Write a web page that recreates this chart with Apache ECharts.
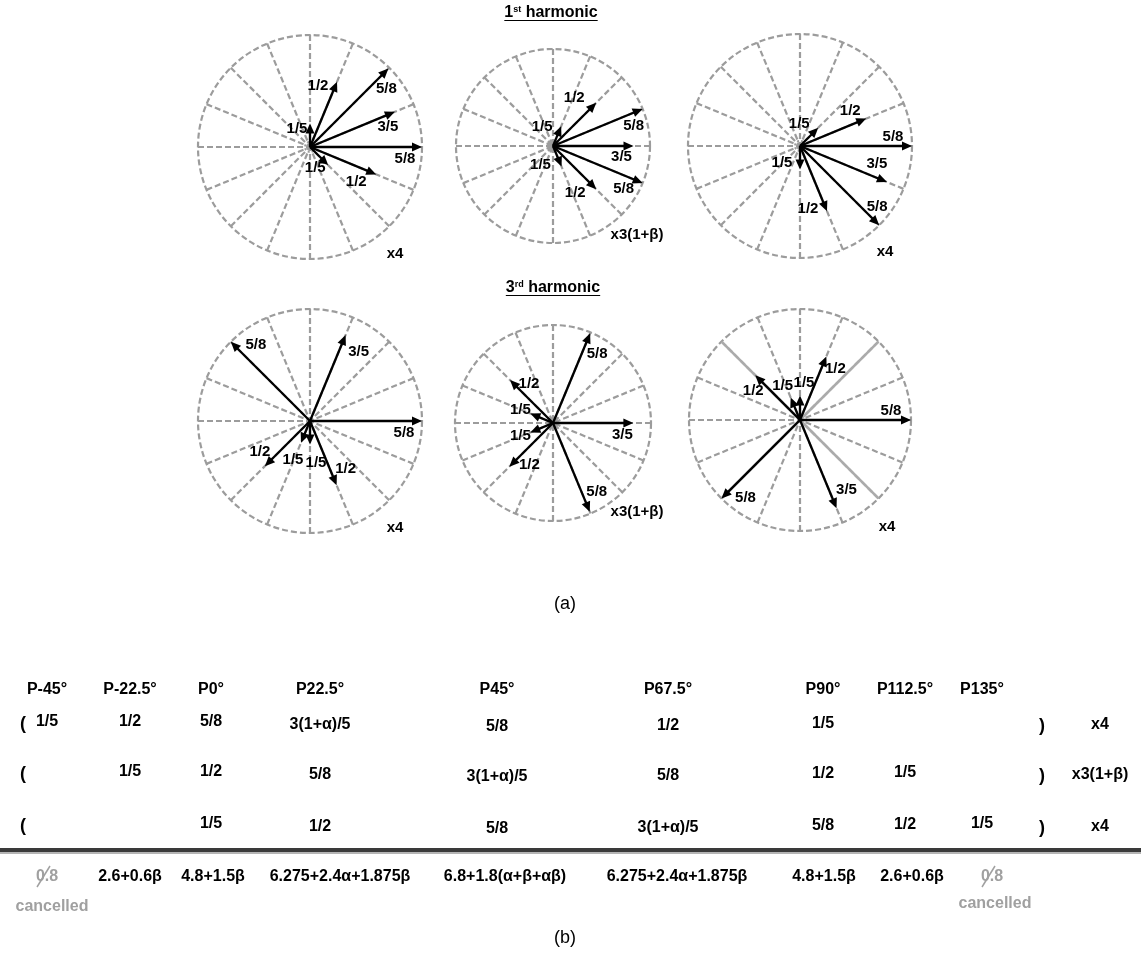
<!DOCTYPE html>
<html>
<head>
<meta charset="utf-8">
<script src="https://cdn.jsdelivr.net/npm/echarts@6/dist/echarts.min.js"></script>
<style>html,body{margin:0;padding:0;background:#fff}#c{width:1141px;height:956px}</style>
</head>
<body>
<div id="c"></div>
<script>
// ---------------- DATA ----------------
const harmonicTitles = [['1', 'st', ' harmonic'], ['3', 'rd', ' harmonic']];
const circleMultipliers = ['x4', 'x3(1+β)', 'x4', 'x4', 'x3(1+β)', 'x4'];

// phasor angles (deg, CCW from right), drawn lengths (fraction of circle radius), labels
const angles1 = [90, 67.5, 45, 22.5, 0, -22.5, -45];
const lengths1 = [0.21, 0.63, 0.99, 0.82, 1.0, 0.64, 0.23];
const labels1 = ['1/5', '1/2', '5/8', '3/5', '5/8', '1/2', '1/5'];

const angles2 = [67.5, 45, 22.5, 0, -22.5, -45, -67.5];
const lengths2 = [0.22, 0.63, 1.0, 0.83, 1.0, 0.63, 0.23];
const labels2 = ['1/5', '1/2', '5/8', '3/5', '5/8', '1/2', '1/5'];

const angles3 = [45, 22.5, 0, -22.5, -45, -67.5, -90];
const lengths3 = [0.23, 0.64, 1.0, 0.84, 1.0, 0.63, 0.21];
const labels3 = ['1/5', '1/2', '5/8', '3/5', '5/8', '1/2', '1/5'];

const angles4 = [135, 67.5, 0, -67.5, -90, -112.5, -135];
const lengths4 = [1.0, 0.83, 1.0, 0.62, 0.21, 0.21, 0.57];
const labels4 = ['5/8', '3/5', '5/8', '1/2', '1/5', '1/5', '1/2'];

const angles5 = [67.5, 135, 157.5, 0, 202.5, 225, -67.5];
const lengths5 = [0.99, 0.62, 0.25, 0.82, 0.25, 0.63, 0.98];
const labels5 = ['5/8', '1/2', '1/5', '3/5', '1/5', '1/2', '5/8'];

const angles6 = [67.5, 90, 112.5, 135, 0, 225, -67.5];
const lengths6 = [0.62, 0.22, 0.22, 0.57, 1.0, 1.0, 0.86];
const labels6 = ['1/2', '1/5', '1/5', '1/2', '5/8', '5/8', '3/5'];

const solidSpokeAngles6 = [45, 135, 225, 315];

// table
const columnHeaders = ['P-45°', 'P-22.5°', 'P0°', 'P22.5°', 'P45°', 'P67.5°', 'P90°', 'P112.5°', 'P135°'];
const row1 = ['1/5', '1/2', '5/8', '3(1+α)/5', '5/8', '1/2', '1/5', '', ''];
const row2 = ['', '1/5', '1/2', '5/8', '3(1+α)/5', '5/8', '1/2', '1/5', ''];
const row3 = ['', '', '1/5', '1/2', '5/8', '3(1+α)/5', '5/8', '1/2', '1/5'];
const rowMultipliers = ['x4', 'x3(1+β)', 'x4'];
const totals = ['0.8', '2.6+0.6β', '4.8+1.5β', '6.275+2.4α+1.875β', '6.8+1.8(α+β+αβ)', '6.275+2.4α+1.875β', '4.8+1.5β', '2.6+0.6β', '0.8'];
const totalsCancelled = [true, false, false, false, false, false, false, false, true];
const cancelledText = 'cancelled';
const panelLabels = ['(a)', '(b)'];

// ---------------- LAYOUT / STYLE ----------------
const F = '"Liberation Sans",Arial,Helvetica,sans-serif';
const GRAY = '#9c9c9c';

const circles = [
  {center: [310, 147], r: 112, ring: true},
  {center: [553, 146], r: 97, ring: true},
  {center: [800, 146], r: 112, ring: true},
  {center: [310, 421], r: 112, ring: false},
  {center: [553, 423], r: 98, ring: false},
  {center: [800, 420], r: 111, ring: false}
];
const allAngles = [angles1, angles2, angles3, angles4, angles5, angles6];
const allLengths = [lengths1, lengths2, lengths3, lengths4, lengths5, lengths6];
const allLabels = [labels1, labels2, labels3, labels4, labels5, labels6];
const labelOffsets = [
  [[-13, 5], [-19, 4], [-2, 20], [-7, 15], [-17, 12], [-20, 7], [-13, 3]],
  [[-19, 1], [-22, -5], [-9, 17], [-12, 11], [-19, 6], [-21, 4], [-21, -2]],
  [[-19, -4], [-16, -8], [-19, -9], [-10, -18], [-2, -18], [-19, -2], [-18, -7]],
  [[25, 3], [13, 17], [-18, 12], [9, -16], [6, 18], [-8, 17], [-5, -14]],
  [[7, 20], [19, 4], [-10, -4], [-11, 12], [-10, 3], [20, -2], [7, -20]],
  [[9, 12], [4, -13], [-8, -12], [-2, 16], [-20, -9], [24, -1], [10, -18]]
];
const multiplierPos = [[395, 254], [637, 235], [885, 252], [395, 528], [637, 512], [887, 527]];
const titlePos = [[551, 13], [553, 288]];

const colX = [47, 130, 211, 320, 497, 668, 823, 905, 982];
const bodyColDy = [0, 0, 0, 3, 5, 4, 2, 1, 0];
const totalsX = [47, 130, 213, 340, 505, 677, 824, 912, 992];
const headerY = 690, rowY = [722, 772, 824], totalsY = 877;
const openParenX = 23, closeParenX = 1042, multX = 1100;

const norm = a => ((a % 360) + 360) % 360;

// ---------------- BUILD ----------------
const polar = circles.map(c => ({center: c.center, radius: [0, c.r]}));
const angleAxis = circles.map((c, i) => ({
  polarIndex: i, type: 'value', min: 0, max: 360, interval: 22.5,
  startAngle: 0, clockwise: false,
  axisLine: {show: true, lineStyle: {color: GRAY, width: 2.2, type: [6, 3]}},
  axisTick: {show: false}, axisLabel: {show: false},
  splitLine: {show: true, lineStyle: {color: GRAY, width: 2.2, type: [6, 3]}}
}));
const radiusAxis = circles.map((c, i) => ({polarIndex: i, type: 'value', min: 0, max: 1, show: false}));

const series = [];
// center rings
circles.forEach((c, i) => {
  if (!c.ring) return;
  series.push({
    type: 'custom', coordinateSystem: 'polar', polarIndex: i, clip: false, silent: true, z: 3,
    data: [[0, 0]], encode: {radius: 0, angle: 1},
    renderItem: (params) => ({
      type: 'circle', shape: {cx: params.coordSys.cx, cy: params.coordSys.cy, r: 5},
      style: {stroke: GRAY, fill: null, lineWidth: 2, lineDash: [2, 2]}
    })
  });
});
// solid gray spokes in the last diagram
series.push({
  type: 'custom', coordinateSystem: 'polar', polarIndex: 5, clip: false, silent: true, z: 4,
  data: solidSpokeAngles6.map(a => [1, norm(a)]), encode: {radius: 0, angle: 1},
  renderItem: (params, api) => {
    const p = api.coord([api.value(0), api.value(1)]);
    return {type: 'line', shape: {x1: params.coordSys.cx, y1: params.coordSys.cy, x2: p[0], y2: p[1]},
      style: {stroke: '#ababab', lineWidth: 2.5}};
  }
});
// phasor arrows
allAngles.forEach((angs, i) => {
  series.push({
    type: 'custom', coordinateSystem: 'polar', polarIndex: i, clip: false, silent: true, z: 10,
    data: angs.map((a, k) => [allLengths[i][k], norm(a)]), encode: {radius: 0, angle: 1},
    renderItem: (params, api) => {
      const cs = params.coordSys;
      const tip = api.coord([api.value(0), api.value(1)]);
      const cx = cs.cx, cy = cs.cy;
      const dx = tip[0] - cx, dy = tip[1] - cy;
      const L = Math.hypot(dx, dy) || 1;
      const ux = dx / L, uy = dy / L;
      const hl = 10, hw = 4.5;
      const bx = tip[0] - ux * hl, by = tip[1] - uy * hl;
      const off = labelOffsets[i][params.dataIndex];
      return {type: 'group', children: [
        {type: 'line', shape: {x1: cx, y1: cy, x2: bx + ux * 2, y2: by + uy * 2}, style: {stroke: '#000', lineWidth: 2.3}},
        {type: 'polygon', shape: {points: [[tip[0], tip[1]], [bx - uy * hw, by + ux * hw], [bx + uy * hw, by - ux * hw]]}, style: {fill: '#000'}},
        {type: 'text', style: {text: allLabels[i][params.dataIndex], x: tip[0] + off[0], y: tip[1] + off[1],
          align: 'center', verticalAlign: 'middle', font: 'bold 15px ' + F, fill: '#000'}}
      ]};
    }
  });
});

// graphics: titles, multipliers, table
const g = [];
const measure = (() => {
  const ctx = document.createElement('canvas').getContext('2d');
  return (t, f) => { ctx.font = f; return ctx.measureText(t).width; };
})();
const txt = (x, y, t, font, fill) => ({
  type: 'text', x: x, y: y, silent: true,
  style: {text: t, font: font, fill: fill || '#000', align: 'center', verticalAlign: 'middle'}
});

harmonicTitles.forEach((parts, i) => {
  const fMain = 'bold 16px ' + F, fSup = 'bold 9px ' + F;
  const w = measure(parts[0], fMain) + measure(parts[1], fSup) + measure(parts[2], fMain);
  const [x, y] = titlePos[i];
  g.push({type: 'text', x: x, y: y, silent: true, style: {
    text: '{n|' + parts[0] + '}{s|' + parts[1] + '}{n|' + parts[2] + '}',
    align: 'center', verticalAlign: 'middle', fill: '#000',
    rich: {n: {font: fMain, fill: '#000', verticalAlign: 'bottom'}, s: {font: fSup, fill: '#000', verticalAlign: 'top'}}
  }});
  g.push({type: 'line', silent: true, shape: {x1: x - w / 2, y1: y + 7.5, x2: x + w / 2, y2: y + 7.5}, style: {stroke: '#000', lineWidth: 1.2}});
});
circleMultipliers.forEach((t, i) => g.push(txt(multiplierPos[i][0], multiplierPos[i][1], t, 'bold 15px ' + F)));

g.push(txt(565, 604, panelLabels[0], '18px ' + F));
g.push(txt(565, 938, panelLabels[1], '18px ' + F));

const TF = 'bold 16px ' + F;
columnHeaders.forEach((t, j) => g.push(txt(colX[j], headerY, t, TF)));
[row1, row2, row3].forEach((row, r) => {
  g.push(txt(openParenX, rowY[r] + 2, '(', 'bold 18px ' + F));
  row.forEach((t, j) => { if (t) g.push(txt(colX[j], rowY[r] + bodyColDy[j], t, TF)); });
  g.push(txt(closeParenX, rowY[r] + 4, ')', 'bold 18px ' + F));
  g.push(txt(multX, rowY[r] + 3, rowMultipliers[r], TF));
});
g.push({type: 'rect', silent: true, shape: {x: 0, y: 848, width: 1141, height: 4}, style: {fill: '#3a3a3a'}});
g.push({type: 'rect', silent: true, shape: {x: 0, y: 852, width: 1141, height: 2}, style: {fill: '#b4b4b4'}});
totals.forEach((t, j) => {
  const x = totalsX[j];
  if (totalsCancelled[j]) {
    g.push(txt(x, totalsY, t, TF, '#a0a0a0'));
    g.push({type: 'line', silent: true, shape: {x1: x - 10, y1: totalsY + 10, x2: x + 3, y2: totalsY - 11}, style: {stroke: '#a0a0a0', lineWidth: 1.5}});
    g.push(txt(x + (j === 0 ? 5 : 3), totalsY + (j === 0 ? 30 : 27), cancelledText, TF, '#a0a0a0'));
  } else {
    g.push(txt(x, totalsY, t, TF));
  }
});

const chart = echarts.init(document.getElementById('c'), null, {renderer: 'canvas'});
chart.setOption({
  backgroundColor: '#fff',
  animation: false,
  polar: polar,
  angleAxis: angleAxis,
  radiusAxis: radiusAxis,
  series: series,
  graphic: {elements: g}
});
</script>
</body>
</html>
